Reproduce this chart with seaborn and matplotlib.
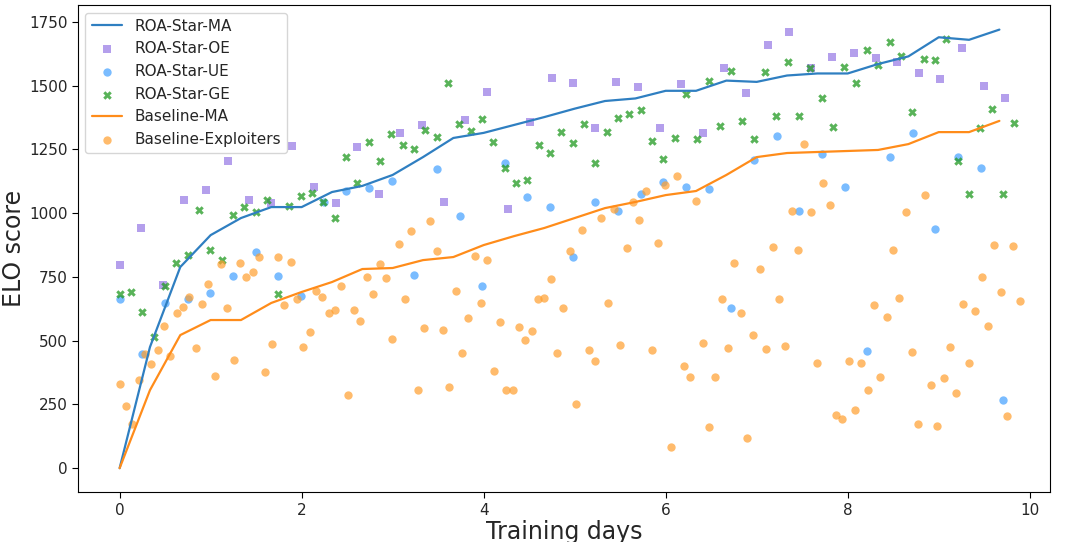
import numpy as np
import matplotlib
matplotlib.use("Agg")
import matplotlib.pyplot as plt
import seaborn as sns

# moving averages, sampled every 1/3 day
ma_days = np.arange(30) / 3
roa_ma = [0, 475, 789, 914, 981, 1024, 1024, 1083, 1107, 1150, 1220, 1295, 1315, 1346, 1377,
          1410, 1440, 1450, 1480, 1480, 1520, 1515, 1540, 1548, 1548, 1585, 1615, 1690, 1680, 1720]
base_ma = [0, 306, 522, 581, 581, 648, 691, 730, 781, 785, 816, 828, 875, 910, 942,
           981, 1020, 1044, 1071, 1087, 1150, 1220, 1236, 1240, 1244, 1248, 1271, 1318, 1318, 1362]

roa_oe = [797, 942, 718, 1052, 1091, 1205, 1052, 1040, 1264, 1103, 1040, 1260, 1075, 1315,
          1346, 1044, 1366, 1475, 1016, 1358, 1530, 1511, 1334, 1515, 1495, 1334, 1507, 1315,
          1570, 1472, 1660, 1711, 1570, 1613, 1628, 1609, 1593, 1550, 1526, 1648, 1499, 1452]
roa_ue = [663, 447, 647, 663, 687, 753, 848, 753, 675, 1044, 1087, 1099, 1126, 757, 1173,
          989, 714, 1197, 1063, 1024, 828, 1044, 1008, 1075, 1122, 1103, 1095, 628, 1209, 1303,
          1008, 1232, 1103, 459, 1220, 1315, 938, 1220, 1177, 267]
roa_ge = [683, 691, 612, 514, 714, 804, 836, 1012, 855, 816, 993, 1024, 1005, 1052, 683,
          1028, 1067, 1079, 1044, 981, 1220, 1118, 1279, 1205, 1311, 1267, 1252, 1326, 1299,
          1511, 1350, 1322, 1370, 1279, 1177, 1118, 1130, 1267, 1236, 1318, 1275,
          1350, 1197, 1318, 1373, 1389, 1405, 1283, 1212, 1295, 1468, 1291, 1519, 1342, 1558,
          1362, 1291, 1554, 1381, 1593, 1381, 1570, 1452, 1338, 1573, 1511, 1640, 1581, 1672,
          1617, 1397, 1605, 1601, 1683, 1205, 1075, 1334, 1409, 1075, 1354]
base_exp = [329, 243, 175, 345, 446, 407, 463, 557, 441, 607, 633, 672, 472, 642, 724, 362,
            799, 629, 426, 805, 750, 770, 828, 378, 486, 828, 638, 808, 662, 476, 535, 694,
            673, 607, 622, 714, 286, 620, 578, 750, 684, 799, 744, 508, 879, 665, 932, 306,
            549, 969, 852, 541, 319, 694, 450, 587, 832, 647, 815, 380, 574, 308, 306, 552,
            501, 537, 662, 668, 743, 450, 629, 852, 251, 934,
            464, 421, 983, 646, 1016, 482, 862, 1045, 975, 1087, 464, 884, 1109, 83, 1145,
            400, 358, 1047, 491, 162, 359, 663, 473, 804, 610, 120, 522, 782, 469, 866, 662,
            480, 1008, 855, 1270, 1004, 413, 1119, 1032, 208, 191, 420, 227, 412, 308, 638,
            358, 593, 856, 668, 1004, 457, 172, 1071, 325, 167, 354, 476, 295, 642, 413, 616,
            748, 557, 877, 692, 204, 870, 654]

# evaluation times (evenly spaced checkpoints per series)
oe_days = np.linspace(0, 9.73, len(roa_oe))
ue_days = np.linspace(0, 9.71, len(roa_ue))
ge_days = np.linspace(0, 9.83, len(roa_ge))
exp_days = np.linspace(0, 9.89, len(base_exp))

sns.set_style("white")
fig, ax = plt.subplots(figsize=(10.8, 5.42), dpi=100)

sns.lineplot(x=ma_days, y=roa_ma, ax=ax, color="#2f7fc1", linewidth=1.6, label="ROA-Star-MA")
sns.scatterplot(x=oe_days, y=roa_oe, ax=ax, marker="s", color="#9b7fe6", alpha=0.75, s=36,
                linewidth=0, label="ROA-Star-OE")
sns.scatterplot(x=ue_days, y=roa_ue, ax=ax, marker="o", color="#3399ff", alpha=0.65, s=36,
                linewidth=0, label="ROA-Star-UE")
sns.scatterplot(x=ge_days, y=roa_ge, ax=ax, marker="X", color="#229a22", alpha=0.75, s=38,
                linewidth=0, label="ROA-Star-GE")
sns.lineplot(x=ma_days, y=base_ma, ax=ax, color="#ff8c1a", linewidth=1.6, label="Baseline-MA")
sns.scatterplot(x=exp_days, y=base_exp, ax=ax, marker="o", color="#ff9f2e", alpha=0.7, s=36,
                linewidth=0, label="Baseline-Exploiters")

for s in ax.spines.values():
    s.set_color("black")
    s.set_linewidth(0.8)
ax.tick_params(axis="both", labelsize=11, length=4, color="black", bottom=True, left=True)
ax.set_xlim(-0.46, 10.22)
ax.set_ylim(-94, 1817)
ax.set_xticks([0, 2, 4, 6, 8, 10])
ax.set_yticks([0, 250, 500, 750, 1000, 1250, 1500, 1750])
ax.set_xlabel("Training days", fontsize=17, labelpad=2)
ax.set_ylabel("ELO score", fontsize=17, labelpad=2)
ax.legend(loc="upper left", fontsize=11, frameon=True)

fig.subplots_adjust(left=0.072, right=0.972, top=0.991, bottom=0.092)
fig.savefig("out.png", dpi=100)
